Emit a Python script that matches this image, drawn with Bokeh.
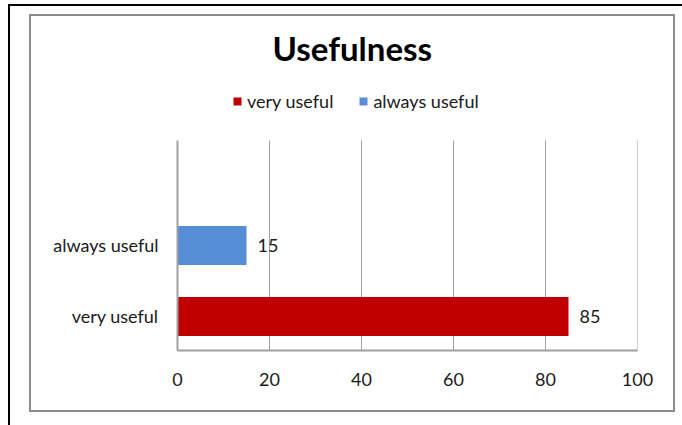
from bokeh.plotting import figure
from bokeh.models import (ColumnDataSource, Range1d, FixedTicker, Legend, LegendItem)
from bokeh.core.properties import value
from bokeh.embed import file_html
from bokeh.resources import INLINE

# ---- data ----
title_text = "Usefulness"
categories = ["very useful", "always useful"]      # bottom to top
values = [85, 15]
series_colors = ["#C00000", "#558ED5"]
legend_order = ["very useful", "always useful"]
x_ticks = [0, 20, 40, 60, 80, 100]

FONT = "Lato"
TXT = "#1a1a1a"
GRID = "#A0A0A0"
FS = "18px"

ypos = list(range(len(categories)))
Y_LO, Y_PLOT_TOP, Y_HI = -0.479, 2.479, 3.352   # plot-area bottom/top, frame top (legend room)

W, H = 682, 425
p = figure(width=W, height=H,
           min_border_left=177, min_border_right=45,
           min_border_top=78, min_border_bottom=75,
           x_range=Range1d(x_ticks[0], x_ticks[-1]), y_range=Range1d(Y_LO, Y_HI),
           output_backend="svg", toolbar_location=None)
p.background_fill_color = None
p.border_fill_color = None
p.outline_line_color = None

# outer black lines and grey chart-area border, painted as CSS backgrounds of the plot element
def bar(x, y, w, h, c):
    return (f"linear-gradient({c},{c})", f"{x}px {y}px", f"{w}px {h}px")

parts = [bar(8, 4, W - 8, 2, "#000"), bar(8, 4, 2, H - 4, "#000"),
         bar(29, 14, 646, 2, "#8C8C8C"), bar(29, 410, 646, 2, "#8C8C8C"),
         bar(29, 14, 2, 398, "#8C8C8C"), bar(673, 14, 2, 398, "#8C8C8C")]
p.styles = {
    "background-color": "white",
    "background-image": ", ".join(a for a, _, _ in parts),
    "background-position": ", ".join(b for _, b, _ in parts),
    "background-size": ", ".join(s for _, _, s in parts),
    "background-repeat": "no-repeat",
}

# title
p.title.text = title_text
p.title.align = "left"
p.title.offset = 95
p.title.text_font = FONT
p.title.text_font_size = "33px"
p.title.text_font_style = "bold"
p.title.text_color = "#000000"
p.title.standoff = 22

# vertical gridlines limited to the plot area
p.segment(x0=x_ticks[1:], x1=x_ticks[1:], y0=[Y_LO] * (len(x_ticks) - 1),
          y1=[Y_PLOT_TOP] * (len(x_ticks) - 1), line_color=GRID, line_width=1)

renderers = {}
for cat, y, v, c in zip(categories, ypos, values, series_colors):
    src = ColumnDataSource(dict(y=[y], right=[v], lab=[str(v)]))
    r = p.hbar(y="y", left=0, right="right", height=0.549, source=src,
               fill_color=c, line_color=None)
    renderers[cat] = r
    p.text(x="right", y="y", text="lab", source=src, x_offset=11,
           text_baseline="middle", text_align="left",
           text_font=value(FONT), text_font_size=FS, text_color=TXT)

legend = Legend(items=[LegendItem(label=n, renderers=[renderers[n]]) for n in legend_order],
                orientation="horizontal", location=(55, 238),
                glyph_width=10, glyph_height=10, label_height=10,
                label_standoff=5, spacing=25, padding=0, margin=0,
                border_line_color=None, background_fill_alpha=0,
                label_text_font=FONT, label_text_font_size=FS,
                label_text_color=TXT)
p.add_layout(legend)

# axes
p.xaxis.ticker = FixedTicker(ticks=x_ticks)
p.xaxis.axis_line_color = GRID
p.xaxis.axis_line_width = 2
p.xaxis.major_tick_line_color = None
p.xaxis.minor_tick_line_color = None
p.xaxis.major_label_standoff = 16
p.xaxis.major_label_text_font = FONT
p.xaxis.major_label_text_font_size = FS
p.xaxis.major_label_text_color = TXT

p.yaxis.ticker = FixedTicker(ticks=ypos)
p.yaxis.bounds = (Y_LO, Y_PLOT_TOP)
p.yaxis.major_label_overrides = {y: c for y, c in zip(ypos, categories)}
p.yaxis.axis_line_color = GRID
p.yaxis.axis_line_width = 2
p.yaxis.major_tick_line_color = None
p.yaxis.minor_tick_line_color = None
p.yaxis.major_label_standoff = 13
p.yaxis.major_label_text_font = FONT
p.yaxis.major_label_text_font_size = FS
p.yaxis.major_label_text_color = TXT

p.xgrid.visible = False
p.ygrid.visible = False

open("out.html", "w").write(file_html(p, INLINE))
